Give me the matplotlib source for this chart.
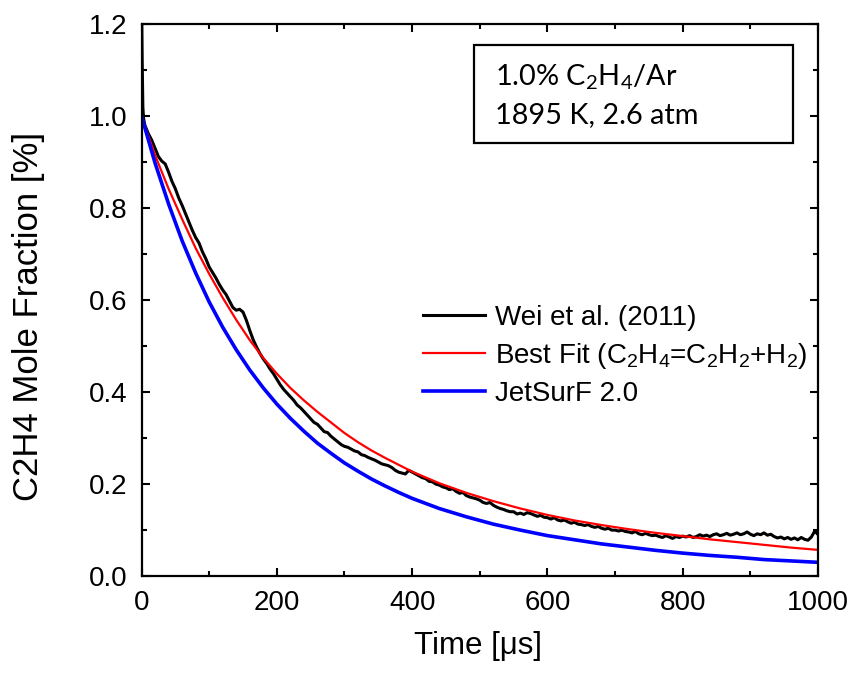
import numpy as np
import matplotlib
matplotlib.use("Agg")
import matplotlib.pyplot as plt
from matplotlib.patches import Rectangle

plt.rcParams['font.family'] = ['Liberation Sans', 'DejaVu Sans']

time_exp = [0, 1, 2, 3] + list(range(5, 1001, 5))
c2h4_exp = [1.26, 1.12, 1.02, 0.995,
            0.980, 0.962, 0.948, 0.930, 0.912, 0.902, 0.896, 0.878, 0.858, 0.842,
            0.822, 0.806, 0.788, 0.770, 0.752, 0.736, 0.724, 0.705, 0.690, 0.672,
            0.660, 0.648, 0.634, 0.622, 0.612, 0.598, 0.584, 0.578, 0.580, 0.574,
            0.556, 0.534, 0.514, 0.498, 0.484, 0.472, 0.462, 0.450, 0.440, 0.428,
            0.416, 0.406, 0.398, 0.390, 0.382, 0.372, 0.366, 0.358, 0.350, 0.342,
            0.334, 0.330, 0.322, 0.314, 0.312, 0.304, 0.298, 0.292, 0.286, 0.282,
            0.280, 0.276, 0.272, 0.270, 0.264, 0.262, 0.258, 0.255, 0.252, 0.248,
            0.244, 0.242, 0.240, 0.236, 0.230, 0.226, 0.224, 0.222, 0.230, 0.226,
            0.222, 0.218, 0.214, 0.212, 0.206, 0.205, 0.200, 0.198, 0.194, 0.192,
            0.188, 0.190, 0.184, 0.180, 0.182, 0.175, 0.172, 0.170, 0.168, 0.165,
            0.160, 0.158, 0.160, 0.154, 0.150, 0.147, 0.145, 0.142, 0.140, 0.140,
            0.135, 0.137, 0.134, 0.138, 0.136, 0.133, 0.130, 0.132, 0.128, 0.127,
            0.124, 0.127, 0.122, 0.120, 0.122, 0.118, 0.115, 0.117, 0.113, 0.112,
            0.110, 0.112, 0.108, 0.106, 0.108, 0.104, 0.102, 0.104, 0.100, 0.100,
            0.098, 0.100, 0.097, 0.096, 0.094, 0.097, 0.092, 0.090, 0.093, 0.090,
            0.088, 0.089, 0.086, 0.084, 0.088, 0.085, 0.082, 0.086, 0.084, 0.087,
            0.085, 0.088, 0.084, 0.086, 0.090, 0.087, 0.089, 0.086, 0.090, 0.092,
            0.088, 0.090, 0.093, 0.089, 0.091, 0.094, 0.090, 0.092, 0.096, 0.091,
            0.088, 0.092, 0.090, 0.094, 0.089, 0.091, 0.086, 0.083, 0.085, 0.081,
            0.084, 0.080, 0.083, 0.079, 0.084, 0.080, 0.078, 0.085, 0.098, 0.090]

# model curves
time_model = [0, 20, 40, 60, 80, 100, 120, 140, 160, 180, 200, 220, 240, 260, 280,
              300, 320, 340, 360, 380, 400, 440, 480, 520, 560, 600, 640, 680,
              720, 760, 800, 840, 880, 920, 960, 1000]
best_fit = [1.000, 0.915, 0.842, 0.776, 0.713, 0.657, 0.605, 0.557, 0.513, 0.474,
            0.440, 0.409, 0.382, 0.357, 0.334, 0.311, 0.291, 0.273, 0.257, 0.242,
            0.227, 0.202, 0.181, 0.163, 0.147, 0.133, 0.121, 0.111, 0.102, 0.094,
            0.087, 0.080, 0.074, 0.068, 0.062, 0.057]
jetsurf = [1.000, 0.898, 0.809, 0.729, 0.659, 0.596, 0.541, 0.492, 0.448, 0.409,
           0.374, 0.343, 0.315, 0.289, 0.267, 0.246, 0.228, 0.211, 0.196, 0.182,
           0.169, 0.147, 0.129, 0.113, 0.100, 0.088, 0.079, 0.070, 0.063, 0.056,
           0.050, 0.045, 0.041, 0.036, 0.033, 0.030]

fig = plt.figure(figsize=(8.54, 6.77), dpi=100)
ax = fig.add_axes([0.1657, 0.149, 0.958 - 0.1657, 0.9645 - 0.149])

ax.plot(time_exp, c2h4_exp, color='black', lw=2.2,
        label='Wei et al. (2011)')
ax.plot(time_model, best_fit, color='red', lw=1.6,
        label=r'Best Fit (C$\mathregular{_2}$H$\mathregular{_4}$=C$\mathregular{_2}$H$\mathregular{_2}$+H$\mathregular{_2}$)')
ax.plot(time_model, jetsurf, color='blue', lw=2.6, label='JetSurF 2.0')

ax.set_xlim(0, 1000)
ax.set_ylim(0, 1.2)
ax.set_xticks(np.arange(0, 1001, 200))
ax.set_xticks(np.arange(0, 1001, 100), minor=True)
ax.set_yticks(np.arange(0, 1.21, 0.2))
ax.set_yticks(np.arange(0, 1.21, 0.1), minor=True)
ax.yaxis.set_major_formatter(matplotlib.ticker.FormatStrFormatter('%.1f'))
ax.tick_params(which='both', direction='in', top=True, right=True, width=1.5,
               labelsize=20, pad=10)
ax.tick_params(which='major', length=6)
ax.tick_params(which='minor', length=3.5)
for s in ax.spines.values():
    s.set_linewidth(1.6)

ax.set_xlabel('Time [\u03bcs]', fontsize=22.5)
ax.set_ylabel('C2H4 Mole Fraction [%]', fontsize=25)
ax.xaxis.set_label_coords(0.497, -0.1)
ax.yaxis.set_label_coords(-0.143, 0.47)

ax.legend(loc='upper left', bbox_to_anchor=(0.416, 0.491), frameon=False,
          fontsize=20, handlelength=2.25, handletextpad=0.36,
          labelspacing=0.36, borderpad=0, borderaxespad=0)

# condition box
ax.add_patch(Rectangle((0.4915, 0.7844), 0.963 - 0.4915, 0.962 - 0.7844,
                       transform=ax.transAxes, fill=False, lw=1.6,
                       edgecolor='black'))
ax.text(0.5225, 0.8895, r'1.0% C$\mathregular{_2}$H$\mathregular{_4}$/Ar',
        transform=ax.transAxes, family='Lato', fontsize=20.8, va='baseline')
ax.text(0.5225, 0.8207, '1895 K, 2.6 atm', transform=ax.transAxes,
        family='Lato', fontsize=20.8, va='baseline')

fig.savefig('out.png', dpi=100)
